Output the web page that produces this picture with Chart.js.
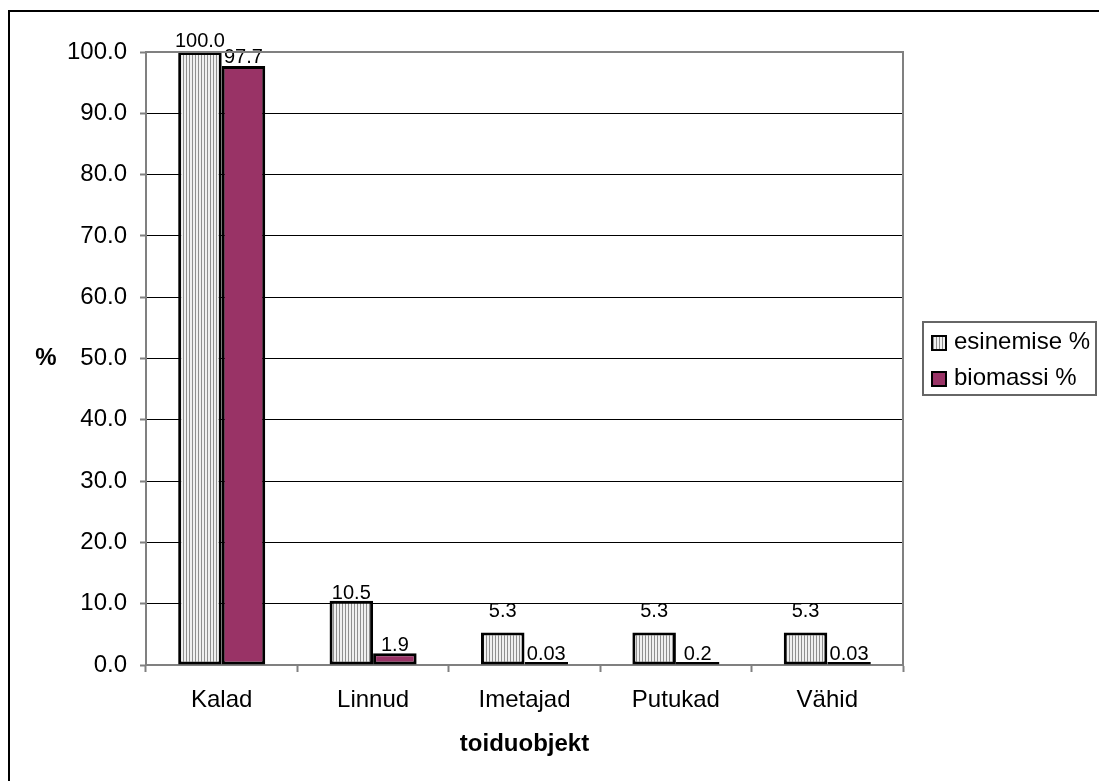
<!DOCTYPE html>
<html>
<head>
<meta charset="utf-8">
<script src="https://cdn.jsdelivr.net/npm/chart.js@4"></script>
<style>
  html, body { margin: 0; padding: 0; background: #fff; }
  #chart { display: block; }
</style>
</head>
<body>
<canvas id="chart" width="1099" height="781"></canvas>
<script>
// toiduobjektid ja protsendid
const categories = ['Kalad', 'Linnud', 'Imetajad', 'Putukad', 'Vähid'];
const esinemine = [100.0, 10.5, 5.3, 5.3, 5.3];
const biomass = [97.7, 1.9, 0.03, 0.2, 0.03];
const seriesNames = ['esinemise %', 'biomassi %'];
const yTickValues = [0, 10, 20, 30, 40, 50, 60, 70, 80, 90, 100];

const FONT = '"Liberation Sans", Arial, sans-serif';
const AXIS_GRAY = '#808080';
const PLUM = '#993366';

// triibuline muster esinemise tulpadele
function stripePattern() {
  const tile = document.createElement('canvas');
  tile.width = 3;
  tile.height = 4;
  const t = tile.getContext('2d');
  t.fillStyle = '#f0f0f0';
  t.fillRect(0, 0, 3, 4);
  t.fillStyle = '#8f8f8f';
  t.fillRect(0, 0, 1, 4);
  return document.getElementById('chart').getContext('2d').createPattern(tile, 'repeat');
}
const stripes = stripePattern();

// raam, joonise ala piir, y-telje pealkiri ja legend
const decorations = {
  id: 'decorations',
  afterDraw(chart) {
    const { ctx, chartArea } = chart;
    ctx.save();

    ctx.strokeStyle = '#000';
    ctx.lineWidth = 2;
    ctx.strokeRect(9, 11, 1200, 900);

    ctx.strokeStyle = AXIS_GRAY;
    ctx.lineWidth = 2;
    ctx.beginPath();
    ctx.moveTo(chartArea.left, chartArea.top);
    ctx.lineTo(chartArea.right, chartArea.top);
    ctx.lineTo(chartArea.right, chartArea.bottom);
    ctx.stroke();

    ctx.fillStyle = '#000';
    ctx.font = 'bold 24px ' + FONT;
    ctx.textAlign = 'center';
    ctx.textBaseline = 'middle';
    ctx.fillText('%', 46, 358);

    // legend
    ctx.strokeStyle = '#666';
    ctx.lineWidth = 2;
    ctx.strokeRect(923, 322, 173, 73);
    const fills = [stripes, PLUM];
    ctx.font = '24px ' + FONT;
    ctx.textAlign = 'left';
    ctx.textBaseline = 'alphabetic';
    seriesNames.forEach((name, i) => {
      const y = 336 + i * 36;
      ctx.fillStyle = fills[i];
      ctx.fillRect(932, y, 14, 14);
      ctx.strokeStyle = '#000';
      ctx.strokeRect(932, y, 14, 14);
      ctx.fillStyle = '#000';
      ctx.fillText(name, 954, y + 13);
    });
    ctx.restore();
  }
};

// väärtused tulpade kohal
const valueLabels = {
  id: 'valueLabels',
  afterDatasetsDraw(chart, args, opts) {
    const { ctx } = chart;
    ctx.save();
    ctx.font = '20px ' + FONT;
    ctx.fillStyle = '#000';
    ctx.textAlign = 'center';
    ctx.textBaseline = 'alphabetic';
    chart.data.datasets.forEach((ds, di) => {
      const meta = chart.getDatasetMeta(di);
      meta.data.forEach((bar, i) => {
        const v = ds.data[i];
        const text = di === 0 ? v.toFixed(1) : String(v);
        const lift = (opts.lift[di] && opts.lift[di][i]) || 2;
        ctx.fillText(text, bar.x, bar.y - lift);
      });
    });
    ctx.restore();
  }
};

new Chart(document.getElementById('chart'), {
  type: 'bar',
  data: {
    labels: categories,
    datasets: [
      {
        label: seriesNames[0],
        data: esinemine,
        backgroundColor: stripes,
        borderColor: '#000',
        borderWidth: 3,
        borderSkipped: false,
        minBarLength: 3,
      },
      {
        label: seriesNames[1],
        data: biomass,
        backgroundColor: PLUM,
        borderColor: '#000',
        borderWidth: 3,
        borderSkipped: false,
        minBarLength: 3,
      },
    ],
  },
  options: {
    responsive: false,
    animation: false,
    devicePixelRatio: 1,
    events: [],
    layout: { padding: { left: 0, top: 52, right: 196, bottom: 0 } },
    datasets: { bar: { categoryPercentage: 0.575, barPercentage: 1.0 } },
    plugins: {
      legend: { display: false },
      tooltip: { enabled: false },
      valueLabels: { lift: [[5, 2, 16, 16, 16], [3, 2, 2, 2, 2]] },
    },
    scales: {
      x: {
        offset: true,
        grid: {
          offset: true,
          drawOnChartArea: false,
          drawTicks: true,
          tickLength: 7,
          tickColor: AXIS_GRAY,
          tickWidth: 2,
        },
        border: { color: AXIS_GRAY, width: 2 },
        ticks: {
          color: '#000',
          font: { family: FONT, size: 24 },
          padding: 14,
          maxRotation: 0,
        },
        title: {
          display: true,
          text: 'toiduobjekt',
          color: '#000',
          font: { family: FONT, size: 24, weight: 'bold' },
          padding: { top: 0, bottom: 22 },
        },
        afterFit: scale => { scale.height = 116; },
      },
      y: {
        min: 0,
        max: 100,
        afterBuildTicks: scale => {
          scale.ticks = yTickValues.map(v => ({ value: v }));
        },
        grid: {
          color: '#000',
          lineWidth: 1,
          tickLength: 6,
          tickColor: AXIS_GRAY,
          tickWidth: 2,
        },
        border: { color: AXIS_GRAY, width: 2 },
        ticks: {
          color: '#000',
          font: { family: FONT, size: 24 },
          padding: 13,
          callback: v => Number(v).toFixed(1),
        },
        afterFit: scale => { scale.width = 146; },
      },
    },
  },
  plugins: [decorations, valueLabels],
});
</script>
</body>
</html>
